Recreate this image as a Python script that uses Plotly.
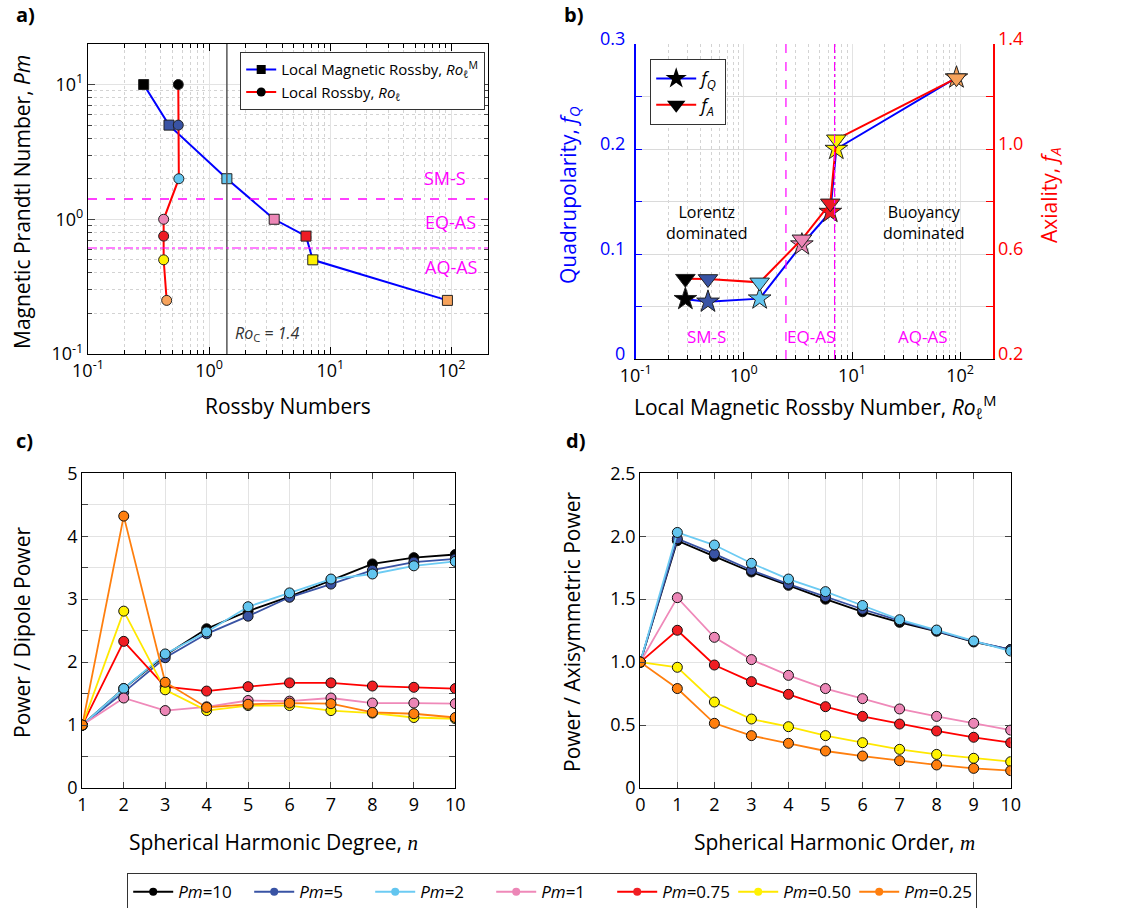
import math
import plotly.graph_objects as go

# ---------------- data ----------------
pm_labels = ["10", "5", "2", "1", "0.75", "0.50", "0.25"]
pm_values = [10, 5, 2, 1, 0.75, 0.5, 0.25]

# panel a / b
ro_mag = [0.288, 0.466, 1.40, 3.44, 6.3, 7.16, 92.5]      # local magnetic Rossby
ro_loc = [0.556, 0.556, 0.562, 0.421, 0.421, 0.421, 0.446]  # local Rossby
f_q = [0.057, 0.0545, 0.0575, 0.109, 0.140, 0.200, 0.268]  # quadrupolarity
f_a = [0.506, 0.505, 0.492, 0.656, 0.793, 1.037, 1.27]     # axiality
ro_c = 1.4
regime_pm_sms = 1.414
regime_pm_aq = 0.612
regime_ro_eq = 2.45
regime_ro_aq = 6.9

# panel c: power / dipole power vs degree n
deg_n = [1, 2, 3, 4, 5, 6, 7, 8, 9, 10]
c_vals = [
    [1.0, 1.58, 2.11, 2.53, 2.81, 3.04, 3.30, 3.56, 3.66, 3.71],
    [1.0, 1.52, 2.07, 2.45, 2.73, 3.03, 3.24, 3.46, 3.59, 3.64],
    [1.0, 1.58, 2.13, 2.48, 2.88, 3.10, 3.32, 3.40, 3.53, 3.60],
    [1.0, 1.43, 1.23, 1.29, 1.39, 1.38, 1.43, 1.35, 1.35, 1.34],
    [1.0, 2.33, 1.61, 1.54, 1.61, 1.67, 1.67, 1.62, 1.60, 1.58],
    [1.0, 2.81, 1.56, 1.23, 1.31, 1.31, 1.23, 1.19, 1.12, 1.10],
    [1.0, 4.32, 1.68, 1.28, 1.33, 1.35, 1.34, 1.20, 1.18, 1.12],
]

# panel d: power / axisymmetric power vs order m
ord_m = [0, 1, 2, 3, 4, 5, 6, 7, 8, 9, 10]
d_vals = [
    [1.0, 1.965, 1.84, 1.716, 1.61, 1.50, 1.40, 1.316, 1.245, 1.16, 1.10],
    [1.0, 1.98, 1.86, 1.73, 1.62, 1.52, 1.42, 1.33, 1.25, 1.165, 1.10],
    [1.0, 2.03, 1.93, 1.785, 1.66, 1.56, 1.45, 1.337, 1.255, 1.168, 1.088],
    [1.0, 1.512, 1.197, 1.02, 0.895, 0.79, 0.71, 0.628, 0.569, 0.514, 0.46],
    [1.0, 1.253, 0.977, 0.845, 0.744, 0.646, 0.569, 0.508, 0.453, 0.403, 0.36],
    [1.0, 0.959, 0.683, 0.548, 0.487, 0.416, 0.36, 0.307, 0.267, 0.236, 0.209],
    [1.0, 0.79, 0.514, 0.416, 0.355, 0.294, 0.254, 0.217, 0.183, 0.156, 0.138],
]

# ---------------- styles ----------------
line_cols = ["#000000", "#3953a4", "#6ccbf3", "#ef89b9", "#ff0000", "#ffe800", "#ff7f0e"]
mark_cols = ["#000000", "#3953a4", "#62c5ef", "#ec86b6", "#f01e23", "#fff200", "#ff7f0e"]
ab_cols = ["#000000", "#3953a4", "#62c5ef", "#ec86b6", "#ed1c24", "#fff200", "#f7a35c"]
MAG = "#ff00ff"
FONT = "Open Sans"
W, H = 1124, 908


def dx(px):
    return px / W


def dy(py):
    return 1 - py / H


fig = go.Figure()

# ---- panel a ----
fig.add_trace(go.Scatter(x=ro_mag, y=pm_values, mode="lines+markers", xaxis="x", yaxis="y",
                         line=dict(color="#0000ff", width=2),
                         marker=dict(symbol="square", size=10, color=ab_cols,
                                     line=dict(color="#222", width=1)),
                         showlegend=False))
fig.add_trace(go.Scatter(x=ro_loc, y=pm_values, mode="lines+markers", xaxis="x", yaxis="y",
                         line=dict(color="#ff0000", width=2),
                         marker=dict(symbol="circle", size=10, color=ab_cols,
                                     line=dict(color="#222", width=1)),
                         showlegend=False))
fig.add_trace(go.Scatter(x=[None], y=[None], mode="lines+markers", xaxis="x", yaxis="y",
                         line=dict(color="#0000ff", width=2),
                         marker=dict(symbol="square", size=9, color="black"),
                         name="Local Magnetic Rossby, <i>Ro</i><sub>ℓ</sub><sup>M</sup>",
                         legend="legend"))
fig.add_trace(go.Scatter(x=[None], y=[None], mode="lines+markers", xaxis="x", yaxis="y",
                         line=dict(color="#ff0000", width=2),
                         marker=dict(symbol="circle", size=9, color="black"),
                         name="Local Rossby, <i>Ro</i><sub>ℓ</sub>",
                         legend="legend"))

# ---- panel b ----
fig.add_trace(go.Scatter(x=ro_mag, y=f_a, mode="lines+markers", xaxis="x2", yaxis="y5",
                         line=dict(color="#ff0000", width=2),
                         marker=dict(symbol="triangle-down", size=17, color=ab_cols,
                                     line=dict(color="#222", width=1)),
                         showlegend=False))
fig.add_trace(go.Scatter(x=ro_mag, y=f_q, mode="lines+markers", xaxis="x2", yaxis="y2",
                         line=dict(color="#0000ff", width=2),
                         marker=dict(symbol="star", size=17, color=ab_cols,
                                     line=dict(color="#222", width=1)),
                         showlegend=False))
fig.add_trace(go.Scatter(x=[None], y=[None], mode="lines+markers", xaxis="x2", yaxis="y2",
                         line=dict(color="#0000ff", width=2),
                         marker=dict(symbol="star", size=16, color="black"),
                         name="<i>f</i><sub><i>Q</i></sub>", legend="legend2"))
fig.add_trace(go.Scatter(x=[None], y=[None], mode="lines+markers", xaxis="x2", yaxis="y2",
                         line=dict(color="#ff0000", width=2),
                         marker=dict(symbol="triangle-down", size=16, color="black"),
                         name="<i>f</i><sub><i>A</i></sub>", legend="legend2"))

# ---- panels c, d ----
for i in range(len(pm_labels)):
    fig.add_trace(go.Scatter(x=deg_n, y=c_vals[i], mode="lines+markers", xaxis="x3", yaxis="y3",
                             line=dict(color=line_cols[i], width=1.8),
                             marker=dict(size=10, color=mark_cols[i], line=dict(color="#111", width=1)),
                             showlegend=False))
for i in range(len(pm_labels)):
    fig.add_trace(go.Scatter(x=ord_m, y=d_vals[i], mode="lines+markers", xaxis="x4", yaxis="y4",
                             line=dict(color=line_cols[i], width=1.8),
                             marker=dict(size=10, color=mark_cols[i], line=dict(color="#111", width=1)),
                             showlegend=False))
for i in range(len(pm_labels)):
    fig.add_trace(go.Scatter(x=[None], y=[None], mode="lines+markers", xaxis="x3", yaxis="y3",
                             line=dict(color=line_cols[i], width=2),
                             marker=dict(size=8, color=mark_cols[i]),
                             name="<i>Pm</i>=" + pm_labels[i], legend="legend3"))

# ---------------- axes ----------------
log_major = [0.1, 1, 10, 100]
log_text = ["10<sup>-1</sup>", "10<sup>0</sup>", "10<sup>1</sup>", "10<sup>2</sup>"]
log_minor = [k * 10 ** e for e in (-1, 0, 1) for k in range(2, 10)] + [200]

GRID = "#e3e3e3"
MINORGRID = "#d3d3d3"
TICKF = dict(family=FONT, size=18, color="black")


def log_axis(domain, anchor, rng, tv, tt, color="black", mirror="ticks", linew=1.2):
    return dict(domain=domain, anchor=anchor, type="log", range=rng,
                tickmode="array", tickvals=tv, ticktext=tt,
                ticks="inside", ticklen=7, tickcolor=color,
                showline=True, linecolor=color, linewidth=linew, mirror=mirror,
                showgrid=True, gridcolor=GRID, gridwidth=1,
                minor=dict(tickmode="array", tickvals=log_minor, ticks="inside", ticklen=4,
                           tickcolor=color, showgrid=True, gridcolor=MINORGRID, griddash="dot",
                           gridwidth=1),
                tickfont=TICKF, zeroline=False)


pa_x = [dx(88), dx(488)]
pa_y = [dy(354), dy(44)]
pb_x = [dx(635.7), dx(992.7)]
pb_y = [dy(359), dy(44)]
pc_x = [dx(82.3), dx(455.3)]
pd_x = [dx(640.3), dx(1010.7)]
pcd_y = [dy(788), dy(473.3)]

layout = dict(
    width=W, height=H, margin=dict(l=0, r=0, t=0, b=0, autoexpand=False),
    paper_bgcolor="white", plot_bgcolor="white",
    font=dict(family=FONT, size=16, color="black"),
    xaxis=log_axis(pa_x, "y", [-1, math.log10(200)], log_major, log_text),
    yaxis=dict(domain=pa_y, anchor="x", type="log", range=[-1, math.log10(20)],
               tickmode="array", tickvals=[0.1, 1, 10],
               ticktext=["10<sup>-1</sup>", "10<sup>0</sup>", "10<sup>1</sup>"],
               ticks="inside", ticklen=7, showline=True, linecolor="black", linewidth=1.2,
               mirror="ticks", showgrid=True, gridcolor=GRID,
               minor=dict(tickmode="array",
                          tickvals=[k * 10 ** e for e in (-1, 0) for k in range(2, 10)] + [20],
                          ticks="inside", ticklen=4, showgrid=True, gridcolor=MINORGRID,
                          griddash="dot"),
               tickfont=TICKF, zeroline=False),
    xaxis2=log_axis(pb_x, "y2", [-1, math.log10(200)], log_major, log_text, mirror=False),
    yaxis2=dict(domain=pb_y, anchor="x2", range=[0, 0.3],
                tickmode="array", tickvals=[0, 0.05, 0.1, 0.15, 0.2, 0.25, 0.3],
                ticktext=["0", "", "0.1", "", "0.2", "", "0.3"],
                ticks="inside", ticklen=7, tickcolor="#0000ff", ticklabelshift=-5,
                ticklabelstandoff=5,
                showline=True, linecolor="#0000ff", linewidth=1.5,
                showgrid=True, gridcolor="#dadada", zeroline=False,
                tickfont=dict(family=FONT, size=18, color="#0000ff")),
    yaxis5=dict(overlaying="y2", anchor="x2", side="right", range=[0.2, 1.4],
                tickmode="array", tickvals=[0.2, 0.4, 0.6, 0.8, 1.0, 1.2, 1.4],
                ticktext=["0.2", "", "0.6", "", "1.0", "", "1.4"],
                ticks="inside", ticklen=7, tickcolor="#ff0000", ticklabelshift=-5,
                showline=True, linecolor="#ff0000", linewidth=1.5,
                showgrid=False, zeroline=False,
                tickfont=dict(family=FONT, size=18, color="#ff0000")),
    xaxis3=dict(domain=pc_x, anchor="y3", range=[1, 10], tickmode="linear", tick0=1, dtick=1,
                ticks="inside", ticklen=6, showline=True, linecolor="black", linewidth=1.2,
                mirror="ticks", showgrid=True, gridcolor=GRID, zeroline=False, tickfont=TICKF),
    yaxis3=dict(domain=pcd_y, anchor="x3", range=[0, 5], tickmode="array",
                tickvals=[0, 0.5, 1, 1.5, 2, 2.5, 3, 3.5, 4, 4.5, 5],
                ticktext=["0", "", "1", "", "2", "", "3", "", "4", "", "5"],
                ticks="inside", ticklen=6, showline=True, linecolor="black", linewidth=1.2,
                mirror="ticks", showgrid=True, gridcolor=GRID, zeroline=False, tickfont=TICKF),
    xaxis4=dict(domain=pd_x, anchor="y4", range=[0, 10], tickmode="linear", tick0=0, dtick=1,
                ticks="inside", ticklen=6, showline=True, linecolor="black", linewidth=1.2,
                mirror="ticks", showgrid=True, gridcolor=GRID, zeroline=False, tickfont=TICKF),
    yaxis4=dict(domain=pcd_y, anchor="x4", range=[0, 2.5], tickmode="array",
                tickvals=[0, 0.5, 1.0, 1.5, 2.0, 2.5],
                ticktext=["0", "0.5", "1.0", "1.5", "2.0", "2.5"],
                ticks="inside", ticklen=6, showline=True, linecolor="black", linewidth=1.2,
                mirror="ticks", showgrid=True, gridcolor=GRID, zeroline=False, tickfont=TICKF),
    legend=dict(x=dx(240), y=dy(52), xanchor="left", yanchor="top", bgcolor="white",
                bordercolor="#333", borderwidth=1.2, font=dict(family=FONT, size=15),
                itemwidth=30, tracegroupgap=0),
    legend2=dict(x=dx(650), y=dy(59), xanchor="left", yanchor="top", bgcolor="white",
                 bordercolor="#333", borderwidth=1.2, font=dict(family=FONT, size=18),
                 itemwidth=40),
    legend3=dict(x=dx(127), y=dy(873), xanchor="left", yanchor="top", orientation="h",
                 bgcolor="white", bordercolor="#333", borderwidth=1.2,
                 font=dict(family=FONT, size=17), itemwidth=40,
                 entrywidth=66, entrywidthmode="pixels"),
)
fig.update_layout(**layout)

# ---------------- shapes ----------------
shapes = [
    dict(type="line", xref="x", yref="y domain", x0=ro_c, x1=ro_c, y0=0, y1=1,
         line=dict(color="#555", width=1.5)),
    dict(type="line", xref="x domain", yref="y", x0=0, x1=1, y0=regime_pm_sms, y1=regime_pm_sms,
         line=dict(color=MAG, width=1.5, dash="dash")),
    dict(type="line", xref="x domain", yref="y", x0=0, x1=1, y0=regime_pm_aq, y1=regime_pm_aq,
         line=dict(color=MAG, width=1.2, dash="dashdot")),
    dict(type="line", xref="x2", yref="y2 domain", x0=regime_ro_eq, x1=regime_ro_eq, y0=0, y1=1,
         line=dict(color=MAG, width=1.2, dash="dash")),
    dict(type="line", xref="x2", yref="y2 domain", x0=regime_ro_aq, x1=regime_ro_aq, y0=0, y1=1,
         line=dict(color=MAG, width=1.2, dash="dashdot")),
]
fig.update_layout(shapes=shapes)

# ---------------- annotations ----------------
def ann(text, px, py, size=21, color="black", angle=0, xanchor="center", bold=False, family=FONT):
    t = "<b>" + text + "</b>" if bold else text
    return dict(text=t, x=dx(px), y=dy(py), xref="paper", yref="paper", showarrow=False,
                xanchor=xanchor, yanchor="middle", textangle=angle,
                font=dict(family=family, size=size, color=color))


SERIF_N = '<span style="font-family:Liberation Serif"><i>%s</i></span>'
anns = [
    ann("a)", 25, 15, size=20, bold=True),
    ann("b)", 573, 15, size=20, bold=True),
    ann("c)", 24, 440, size=20, bold=True),
    ann("d)", 575, 440, size=20, bold=True),
    ann("Magnetic Prandtl Number, <i>Pm</i>", 22, 202, angle=-90),
    ann("Rossby Numbers", 288, 406),
    ann("<i>Ro</i><sub>C</sub><i> = 1.4</i>", 233, 333, size=16, color="#333", xanchor="left"),
    ann("SM-S", 445, 178, size=18, color=MAG),
    ann("EQ-AS", 450, 222, size=18, color=MAG),
    ann("AQ-AS", 451, 267, size=18, color=MAG),
    ann("Quadrupolarity, <i>f</i><sub><i>Q</i></sub>", 569, 195, color="#0000ff", angle=-90),
    ann("Axiality, <i>f</i><sub><i>A</i></sub>", 1050, 195, color="#ff0000", angle=-90),
    ann("Local Magnetic Rossby Number, <i>Ro</i><sub>ℓ</sub><sup>M</sup>", 815, 406),
    ann("Lorentz<br>dominated", 706, 223, size=16),
    ann("Buoyancy<br>dominated", 923, 223, size=16),
    ann("SM-S", 706, 337, size=17, color=MAG),
    ann("EQ-AS", 811, 337, size=17, color=MAG),
    ann("AQ-AS", 923, 337, size=17, color=MAG),
    ann("Power / Dipole Power", 22, 633, angle=-90),
    ann("Spherical Harmonic Degree, " + SERIF_N % "n", 273, 842),
    ann("Power / Axisymmetric Power", 572, 632, angle=-90),
    ann("Spherical Harmonic Order, " + SERIF_N % "m", 834, 842),
]
fig.update_layout(annotations=anns)

fig.write_html("out.html", config={"displayModeBar": False},
               post_script="document.body.style.margin='0';")
